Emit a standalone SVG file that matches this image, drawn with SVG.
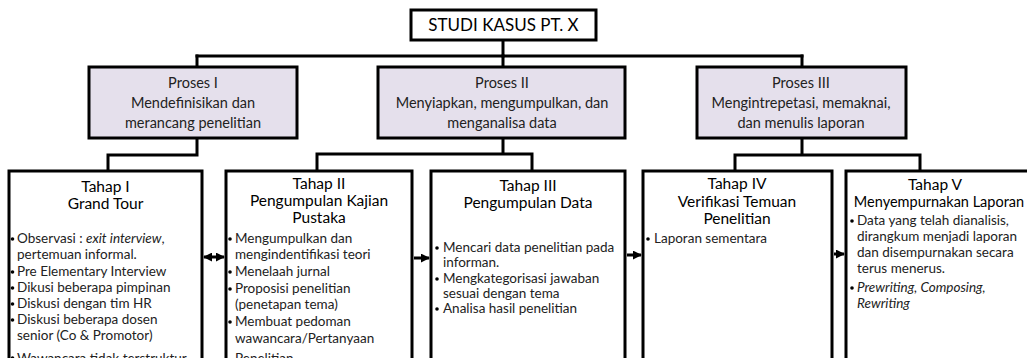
<svg xmlns="http://www.w3.org/2000/svg" width="1027" height="358" viewBox="0 0 1027 358">
  <defs>
    <style>
      .box { fill: #ffffff; stroke: #000000; stroke-width: 3; }
      .proc { fill: #e5e0ec; stroke: #000000; stroke-width: 3; }
      .wire { fill: none; stroke: #000000; stroke-width: 3; stroke-linejoin: miter; stroke-linecap: square; }
      .arrow { fill: none; stroke: #000000; stroke-width: 3; }
      text { font-family: Lato, "Open Sans", "Liberation Sans", sans-serif; fill: #222222; }
      .title { font-size: 17px; text-anchor: middle; fill: #000; }
      .ph { font-size: 14.5px; text-anchor: middle; }
      .th { font-size: 15.5px; text-anchor: middle; fill: #000; }
      .li { font-size: 13.5px; }
      .dot { fill: #000000; }
    </style>
    <marker id="head" viewBox="0 0 10 10" refX="9" refY="5" markerWidth="9" markerHeight="9" markerUnits="userSpaceOnUse" orient="auto-start-reverse">
      <path d="M0 0 L10 5 L0 10 Z" fill="#000"/>
    </marker>
  </defs>

  <!-- connectors -->
  <g id="connectors">
    <path class="wire" d="M503 40 V56"/>
    <path class="wire" d="M197 56 H802"/>
    <path class="wire" d="M197 56 V66 M503 56 V66 M802 56 V66"/>
    <path class="wire" d="M197 138 V155 H108 V171"/>
    <path class="wire" d="M503 138 V154 M317 154 H532 M317 154 V171 M532 154 V171"/>
    <path class="wire" d="M802 138 V155 M735 155 H920 M735 155 V171 M920 155 V171"/>
    <path class="arrow" d="M204 257 H224" marker-start="url(#head)" marker-end="url(#head)"/>
    <path class="arrow" d="M414 258 H429" marker-end="url(#head)"/>
    <path class="arrow" d="M627 255 H641" marker-end="url(#head)"/>
    <path class="arrow" d="M834 254 H844" marker-end="url(#head)"/>
  </g>

  <!-- root -->
  <g id="root">
    <rect class="box" x="411" y="10" width="185" height="30"/>
    <text class="title" x="503.5" y="31">STUDI KASUS PT. X</text>
  </g>

  <!-- processes -->
  <g id="proses1">
    <rect class="proc" x="89" y="67" width="208" height="71"/>
    <text class="ph" x="193" y="88">Proses I</text>
    <text class="ph" x="193" y="108">Mendefinisikan dan</text>
    <text class="ph" x="193" y="128">merancang penelitian</text>
  </g>
  <g id="proses2">
    <rect class="proc" x="378" y="67" width="247" height="71"/>
    <text class="ph" x="502" y="88">Proses II</text>
    <text class="ph" x="502" y="108">Menyiapkan, mengumpulkan, dan</text>
    <text class="ph" x="502" y="128">menganalisa data</text>
  </g>
  <g id="proses3">
    <rect class="proc" x="697" y="67" width="209" height="71"/>
    <text class="ph" x="801" y="88">Proses III</text>
    <text class="ph" x="801" y="108">Mengintrepetasi, memaknai,</text>
    <text class="ph" x="801" y="128">dan menulis laporan</text>
  </g>

  <!-- stages -->
  <g id="tahap1">
    <rect class="box" x="9" y="171" width="193" height="200"/>
    <text class="th" x="105.5" y="192">Tahap I</text>
    <text class="th" x="105.5" y="209">Grand Tour</text>
    <circle class="dot" cx="12.5" cy="239" r="1.8"/>
    <text class="li" x="17" y="243">Observasi : <tspan font-style="italic">exit interview</tspan>,</text>
    <text class="li" x="17" y="259">pertemuan informal.</text>
    <circle class="dot" cx="12.5" cy="272" r="1.8"/>
    <text class="li" x="17" y="276">Pre Elementary Interview</text>
    <circle class="dot" cx="12.5" cy="288" r="1.8"/>
    <text class="li" x="17" y="292">Dikusi beberapa pimpinan</text>
    <circle class="dot" cx="12.5" cy="304" r="1.8"/>
    <text class="li" x="17" y="308">Diskusi dengan tim HR</text>
    <circle class="dot" cx="12.5" cy="320" r="1.8"/>
    <text class="li" x="17" y="324">Diskusi beberapa dosen</text>
    <text class="li" x="17" y="340">senior  (Co &amp; Promotor)</text>
    <circle class="dot" cx="12.5" cy="358" r="1.8"/>
    <text class="li" x="17" y="363">Wawancara tidak terstruktur</text>
  </g>

  <g id="tahap2">
    <rect class="box" x="226" y="171" width="186" height="200"/>
    <text class="th" x="319" y="189">Tahap II</text>
    <text class="th" x="319" y="206">Pengumpulan Kajian</text>
    <text class="th" x="319" y="223">Pustaka</text>
    <circle class="dot" cx="230" cy="239" r="1.8"/>
    <text class="li" x="235" y="243">Mengumpulkan dan</text>
    <text class="li" x="235" y="259">mengindentifikasi teori</text>
    <circle class="dot" cx="230" cy="272" r="1.8"/>
    <text class="li" x="235" y="276">Menelaah jurnal</text>
    <circle class="dot" cx="230" cy="289" r="1.8"/>
    <text class="li" x="235" y="293">Proposisi penelitian</text>
    <text class="li" x="235" y="309">(penetapan tema)</text>
    <circle class="dot" cx="230" cy="322" r="1.8"/>
    <text class="li" x="235" y="326">Membuat pedoman</text>
    <text class="li" x="235" y="343">wawancara/Pertanyaan</text>
    <text class="li" x="235" y="363">Penelitian</text>
  </g>

  <g id="tahap3">
    <rect class="box" x="431" y="171" width="194" height="200"/>
    <text class="th" x="528" y="191">Tahap III</text>
    <text class="th" x="528" y="208">Pengumpulan Data</text>
    <circle class="dot" cx="437" cy="248" r="1.8"/>
    <text class="li" x="443" y="252">Mencari data penelitian pada</text>
    <text class="li" x="443" y="267">informan.</text>
    <circle class="dot" cx="437" cy="279" r="1.8"/>
    <text class="li" x="443" y="283">Mengkategorisasi jawaban</text>
    <text class="li" x="443" y="298">sesuai dengan tema</text>
    <circle class="dot" cx="437" cy="309" r="1.8"/>
    <text class="li" x="443" y="313">Analisa hasil penelitian</text>
  </g>

  <g id="tahap4">
    <rect class="box" x="643" y="171" width="189" height="200"/>
    <text class="th" x="737" y="189">Tahap IV</text>
    <text class="th" x="737" y="207">Verifikasi Temuan</text>
    <text class="th" x="737" y="224">Penelitian</text>
    <circle class="dot" cx="648" cy="239" r="1.8"/>
    <text class="li" x="654" y="243">Laporan sementara</text>
  </g>

  <g id="tahap5">
    <rect class="box" x="846" y="171" width="190" height="200"/>
    <text class="th" x="935" y="190">Tahap V</text>
    <text class="th" x="939" y="207" style="font-size:14.5px">Menyempurnakan Laporan</text>
    <circle class="dot" cx="852" cy="221" r="1.8"/>
    <text class="li" x="857" y="225">Data yang telah dianalisis,</text>
    <text class="li" x="857" y="241">dirangkum menjadi laporan</text>
    <text class="li" x="857" y="257">dan disempurnakan secara</text>
    <text class="li" x="857" y="273">terus menerus.</text>
    <circle class="dot" cx="852" cy="288" r="1.8"/>
    <text class="li" x="857" y="292" font-style="italic">Prewriting, Composing,</text>
    <text class="li" x="857" y="308" font-style="italic">Rewriting</text>
  </g>
</svg>
